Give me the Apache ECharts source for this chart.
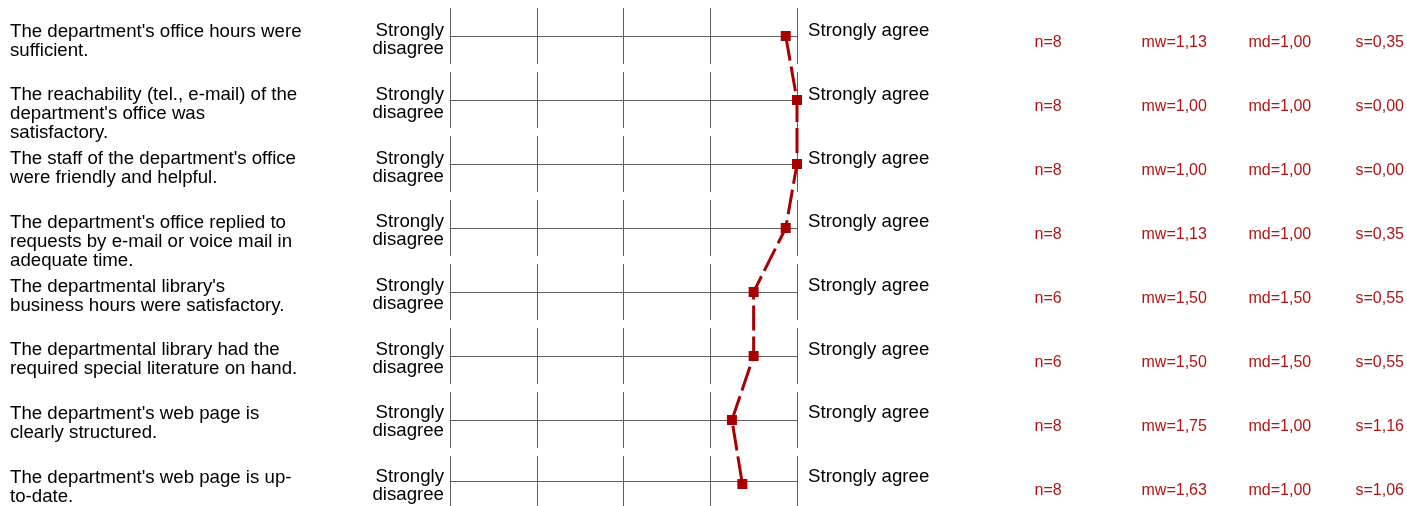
<!DOCTYPE html>
<html>
<head>
<meta charset="utf-8">
<script src="https://cdn.jsdelivr.net/npm/echarts@6/dist/echarts.min.js"></script>
<style>
html,body{margin:0;padding:0;background:#fff;}
#chart{width:1407px;height:506px;}
</style>
</head>
<body>
<div id="chart"></div>
<script>
const questions = [
  "The department's office hours were\nsufficient.",
  "The reachability (tel., e-mail) of the\ndepartment's office was\nsatisfactory.",
  "The staff of the department's office\nwere friendly and helpful.",
  "The department's office replied to\nrequests by e-mail or voice mail in\nadequate time.",
  "The departmental library's\nbusiness hours were satisfactory.",
  "The departmental library had the\nrequired special literature on hand.",
  "The department's web page is\nclearly structured.",
  "The department's web page is up-\nto-date."
];
const leftPole = "Strongly\ndisagree";
const rightPole = "Strongly agree";
const nValues = [8, 8, 8, 8, 6, 6, 8, 8];
const meanValues = [1.13, 1.00, 1.00, 1.13, 1.50, 1.50, 1.75, 1.63];
const medianValues = [1.00, 1.00, 1.00, 1.00, 1.50, 1.50, 1.00, 1.00];
const sdValues = [0.35, 0.00, 0.00, 0.35, 0.55, 0.55, 1.16, 1.06];
const scaleTicks = [1, 2, 3, 4, 5];

const fmt = v => v.toFixed(2).replace('.', ',');
const FONT = '"Liberation Sans", Arial, sans-serif';
const GRIDC = '#5f5f5f';
const RED = '#a80000';
const TXTRED = '#b01515';
const BIG = 18.67;

const rowCount = questions.length;
const PL = 450, PW = 347, ROWH = 64;

const grids = [], xAxes = [], yAxes = [], series = [];

// row grids: segmented vertical lines + horizontal axis line
for (let i = 0; i < rowCount; i++) {
  grids.push({left: PL, width: PW, top: 8 + ROWH * i, height: 56, containLabel: false});
  xAxes.push({
    type: 'value', gridIndex: i, min: scaleTicks[0], max: scaleTicks[scaleTicks.length - 1], interval: 1, inverse: true,
    axisLine: {show: true, onZero: true, lineStyle: {color: GRIDC, width: 1}},
    axisTick: {show: false}, axisLabel: {show: false},
    splitLine: {show: true, lineStyle: {color: GRIDC, width: 1}}
  });
  yAxes.push({type: 'value', gridIndex: i, min: -1, max: 1, show: false, splitLine: {show: false}});
}

// label grid (text tops)
const gLab = grids.length;
grids.push({left: PL, width: PW, top: 22, height: ROWH * (rowCount - 1)});
xAxes.push({type: 'value', gridIndex: gLab, min: 0, max: 1, show: false});
const catAxisBase = {
  type: 'category', gridIndex: gLab, data: questions, inverse: true, boundaryGap: false,
  axisLine: {show: false}, axisTick: {show: false}, splitLine: {show: false}
};
yAxes.push(Object.assign({}, catAxisBase, {
  position: 'left',
  axisLabel: {interval: 0, margin: 440, align: 'left', verticalAlign: 'top', fontFamily: FONT, fontSize: BIG, lineHeight: 19, color: '#000'}
}));
yAxes.push(Object.assign({}, catAxisBase, {
  position: 'left', offset: 0,
  axisLabel: {interval: 0, margin: 6, align: 'right', verticalAlign: 'top', fontFamily: FONT, fontSize: BIG, lineHeight: 18, color: '#000', formatter: () => leftPole}
}));
yAxes.push(Object.assign({}, catAxisBase, {
  position: 'right',
  axisLabel: {interval: 0, margin: 11, align: 'left', verticalAlign: 'top', fontFamily: FONT, fontSize: BIG, lineHeight: 18, color: '#000', formatter: () => rightPole}
}));

// stats grid
const gSt = grids.length;
grids.push({left: PL, width: PW, top: 43, height: ROWH * (rowCount - 1)});
xAxes.push({type: 'value', gridIndex: gSt, min: 0, max: 1, show: false});
yAxes.push({
  type: 'category', gridIndex: gSt, data: questions.map((q, i) => i), inverse: true, boundaryGap: false, position: 'right',
  axisLine: {show: false}, axisTick: {show: false}, splitLine: {show: false},
  axisLabel: {
    interval: 0, margin: 240, align: 'left', verticalAlign: 'middle', fontFamily: FONT, fontSize: 16, color: TXTRED,
    formatter: (v) => {
      const i = +v;
      return '{a|n=' + nValues[i] + '}{b|mw=' + fmt(meanValues[i]) + '}{c|md=' + fmt(medianValues[i]) + '}{d|s=' + fmt(sdValues[i]) + '}';
    },
    rich: {
      a: {width: 107, fontFamily: FONT, fontSize: 16, color: TXTRED},
      b: {width: 107, fontFamily: FONT, fontSize: 16, color: TXTRED},
      c: {width: 107, fontFamily: FONT, fontSize: 16, color: TXTRED},
      d: {fontFamily: FONT, fontSize: 16, color: TXTRED}
    }
  }
});

// profile line grid
const gLn = grids.length;
grids.push({left: PL, width: PW, top: 36, height: ROWH * (rowCount - 1)});
xAxes.push({type: 'value', gridIndex: gLn, min: 1, max: 5, inverse: true, show: false});
const lnY = yAxes.length;
yAxes.push({type: 'category', gridIndex: gLn, data: questions, inverse: true, boundaryGap: false, show: false});
series.push({
  type: 'line', xAxisIndex: xAxes.length - 1, yAxisIndex: lnY,
  data: meanValues.map((v, i) => [v, questions[i]]),
  symbol: 'rect', symbolSize: 10, showSymbol: true,
  lineStyle: {color: RED, width: 3, type: [25, 6]},
  itemStyle: {color: RED},
  animation: false, z: 10
});

const chart = echarts.init(document.getElementById('chart'), null, {renderer: 'canvas'});
chart.setOption({
  animation: false,
  backgroundColor: '#ffffff',
  grid: grids,
  xAxis: xAxes,
  yAxis: yAxes,
  series: series
});
</script>
</body>
</html>
